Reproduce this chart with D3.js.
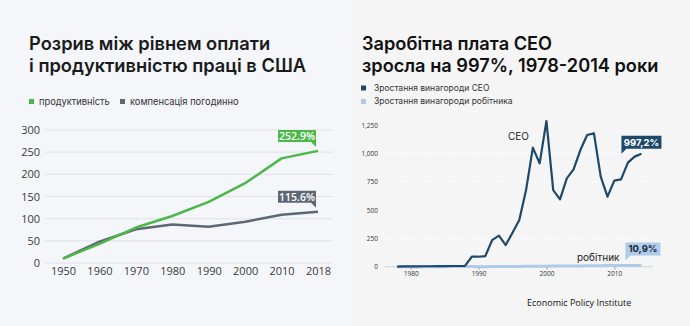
<!DOCTYPE html>
<html><head><meta charset="utf-8">
<script src="https://cdn.jsdelivr.net/npm/d3@7"></script>
<style>
html,body{margin:0;padding:0;background:#f4f6fa;}
svg{display:block;}
</style></head>
<body>
<svg id="c" width="690" height="326"></svg>
<script>
// ---------- Left chart data ----------
const leftYears = ["1950","1960","1970","1980","1990","2000","2010","2018"];
const productivity = [10, 43, 80, 106, 138, 180, 236, 252.9];
const compensation = [10, 48, 76, 87, 82, 93, 109, 115.6];
const leftYTicks = [0, 50, 100, 150, 200, 250, 300];
const leftTitle = ["Розрив між рівнем оплати", "і продуктивністю праці в США"];
const leftLegend = ["продуктивність", "компенсація погодинно"];

// ---------- Right chart data ----------
const ceoYears = [1978,1979,1980,1981,1982,1983,1984,1985,1986,1987,1988,1989,1990,1991,1992,1993,1994,1995,1996,1997,1998,1999,2000,2001,2002,2003,2004,2005,2006,2007,2008,2009,2010,2011,2012,2013,2014];
const ceoGrowth = [0,2,3,3,4,4,5,5,6,6,8,88,88,94,235,274,191,300,412,676,1050,912,1285,676,594,779,859,1029,1162,1176,794,618,759,771,918,971,997.2];
const workerGrowth = [0,-1,-2,-2,-1,-1,0,0,1,1,1,1,0,0,1,1,1,1,2,3,4,5,5,6,7,7,7,7,8,8,9,10,10,10,10,11,10.9];
const rightYTicks = [0, 250, 500, 750, 1000, 1250];
const rightXTicks = [1980, 1990, 2000, 2010];
const rightTitle = ["Заробітна плата CEO", "зросла на 997%, 1978-2014 роки"];
const rightLegend = ["Зростання винагороди CEO", "Зростання винагороди робітника"];

const green = "#4cb848", gray = "#5d6874", dark = "#1d4a6b", light = "#aecbea";
const svg = d3.select("#c");

// backgrounds
svg.append("rect").attr("x",0).attr("y",0).attr("width",352).attr("height",326).attr("fill","#f4f6fa");
svg.append("rect").attr("x",352).attr("y",0).attr("width",338).attr("height",326).attr("fill","#f5f5f5");

// ===== LEFT =====
const L = svg.append("g");
L.selectAll("text.title").data(leftTitle).join("text")
  .attr("x",29).attr("y",(d,i)=>50+i*22)
  .attr("font-family","Inter").attr("font-weight",600).attr("font-size",18.3)
  .attr("fill","#1b1b1b").text(d=>d);

const legL = [{t:leftLegend[0],c:green,x:29},{t:leftLegend[1],c:gray,x:120}];
legL.forEach(l=>{
  L.append("rect").attr("x",l.x).attr("y",99).attr("width",5).attr("height",5).attr("fill",l.c);
  L.append("text").attr("x",l.x+10).attr("y",104.5).attr("font-family","Inter").attr("font-size",9.3)
    .attr("fill","#333").text(l.t);
});

const xL = d3.scalePoint().domain(leftYears).range([63,318]);
const yL = d3.scaleLinear().domain([0,300]).range([263,130]);

// gridlines
L.selectAll("line.g").data(leftYTicks).join("line")
  .attr("x1",45).attr("x2",333).attr("y1",d=>yL(d)).attr("y2",d=>yL(d))
  .attr("stroke","#dfe2e7").attr("stroke-width",1);

const yAxL = d3.axisLeft(yL).tickValues(leftYTicks).tickSize(0).tickPadding(0);
L.append("g").attr("transform","translate(40,0)").call(yAxL)
  .call(g=>g.select(".domain").remove())
  .call(g=>g.selectAll("text").attr("font-family","Open Sans").attr("font-size",11).attr("fill","#3a3a3a"));

const xAxL = d3.axisBottom(xL).tickSize(0).tickPadding(0);
L.append("g").attr("transform","translate(0,267)").call(xAxL)
  .call(g=>g.select(".domain").remove())
  .call(g=>g.selectAll("text").attr("font-family","Open Sans").attr("font-size",11).attr("fill","#3a3a3a").attr("dy","0.71em"));

const lineL = d3.line().x((d,i)=>xL(leftYears[i])).y(d=>yL(d));
L.append("path").datum(compensation).attr("d",lineL).attr("fill","none").attr("stroke",gray).attr("stroke-width",2.5).attr("stroke-linejoin","round");
L.append("path").datum(productivity).attr("d",lineL).attr("fill","none").attr("stroke",green).attr("stroke-width",2.5).attr("stroke-linejoin","round");

function calloutR(g, x2, y1, w, h, fill, txt, txtFill, fs){
  const x1 = x2 - w;
  const p = `M${x1},${y1}H${x2}V${y1+h+5}L${x2-5},${y1+h}H${x1}Z`;
  g.append("path").attr("d",p).attr("fill",fill);
  g.append("text").attr("x",(x1+x2)/2).attr("y",y1+h/2).attr("dy","0.36em")
    .attr("text-anchor","middle").attr("font-family","Open Sans").attr("font-size",fs)
    .attr("font-weight",600).attr("fill",txtFill).text(txt);
}
const n = leftYears.length-1;
calloutR(L, xL(leftYears[n])-2, yL(productivity[n])-21, 38, 12, green, productivity[n].toFixed(1)+"%", "#fff", 10.5);
calloutR(L, xL(leftYears[n])-2, yL(compensation[n])-21, 38, 12, gray, compensation[n].toFixed(1)+"%", "#fff", 10.5);

// ===== RIGHT =====
const R = svg.append("g");
R.selectAll("text.title").data(rightTitle).join("text")
  .attr("x",362).attr("y",(d,i)=>50+i*22)
  .attr("font-family","Inter").attr("font-weight",600).attr("font-size",18.2)
  .attr("fill","#111").text(d=>d);
const legR = [{t:rightLegend[0],c:dark,y:88},{t:rightLegend[1],c:light,y:101.5}];
legR.forEach(l=>{
  R.append("rect").attr("x",361).attr("y",l.y-2.5).attr("width",5).attr("height",5).attr("fill",l.c);
  R.append("text").attr("x",374).attr("y",l.y).attr("dy","0.35em").attr("font-family","Inter").attr("font-size",8.5)
    .attr("fill","#333").text(l.t);
});

const xR = d3.scaleLinear().domain([1980,2010]).range([410.7,614.3]);
const yR = d3.scaleLinear().domain([0,1250]).range([266.7,125]);

R.selectAll("line.g").data(rightYTicks.filter(d=>d>0)).join("line")
  .attr("x1",385).attr("x2",653).attr("y1",d=>yR(d)).attr("y2",d=>yR(d))
  .attr("stroke","#ffffff").attr("stroke-width",1.2).attr("stroke-dasharray","1.5,1.5");
R.append("line").attr("x1",385).attr("x2",653).attr("y1",yR(0)).attr("y2",yR(0)).attr("stroke","#cfd3d8").attr("stroke-width",1);

const yAxR = d3.axisLeft(yR).tickValues(rightYTicks).tickSize(0).tickPadding(0).tickFormat(d3.format(","));
R.append("g").attr("transform","translate(378,0)").call(yAxR)
  .call(g=>g.select(".domain").remove())
  .call(g=>g.selectAll("text").attr("font-family","Open Sans").attr("font-size",6.5).attr("fill","#333"));

const xAxR = d3.axisBottom(xR).tickValues(rightXTicks).tickSize(3).tickPadding(2).tickFormat(d3.format("d"));
R.append("g").attr("transform",`translate(0,${yR(0)})`).call(xAxR)
  .call(g=>g.select(".domain").remove())
  .call(g=>g.selectAll("line").attr("stroke","#999"))
  .call(g=>g.selectAll("text").attr("font-family","Open Sans").attr("font-size",6.5).attr("fill","#333"));

const lineR = d3.line().x((d,i)=>xR(ceoYears[i])).y(d=>yR(d));
R.append("path").datum(workerGrowth).attr("d",lineR).attr("fill","none").attr("stroke",light).attr("stroke-width",3);
R.append("path").datum(ceoGrowth).attr("d",lineR).attr("fill","none").attr("stroke",dark).attr("stroke-width",2.2).attr("stroke-linejoin","round");

R.append("text").attr("x",508).attr("y",136).attr("dy","0.35em").attr("font-family","Inter").attr("font-size",10).attr("fill","#222").text("CEO");
R.append("text").attr("x",577).attr("y",257).attr("dy","0.35em").attr("font-family","Inter").attr("font-size",10).attr("fill","#222").text("робітник");

const m = ceoYears.length-1;
function calloutL(g, x1, y1, w, h, fill, txt, txtFill, fs){
  const x2 = x1 + w;
  const p = `M${x1},${y1}H${x2}V${y1+h}H${x1+5}L${x1},${y1+h+5}Z`;
  g.append("path").attr("d",p).attr("fill",fill);
  g.append("text").attr("x",(x1+x2)/2).attr("y",y1+h/2).attr("dy","0.36em")
    .attr("text-anchor","middle").attr("font-family","Inter").attr("font-size",fs)
    .attr("font-weight",700).attr("fill",txtFill).text(txt);
}
calloutL(R, xR(ceoYears[m])-20, yR(ceoGrowth[m])-18, 40, 13, dark, "997,2%", "#fff", 9.5);
calloutL(R, xR(ceoYears[m])-16, yR(workerGrowth[m])-23, 35, 13, light, "10,9%", "#1b2a3a", 9.5);

svg.append("text").attr("x",527).attr("y",303).attr("dy","0.35em").attr("font-family","Open Sans").attr("font-size",9)
  .attr("fill","#111").text("Economic Policy Institute");
</script>
</body></html>
